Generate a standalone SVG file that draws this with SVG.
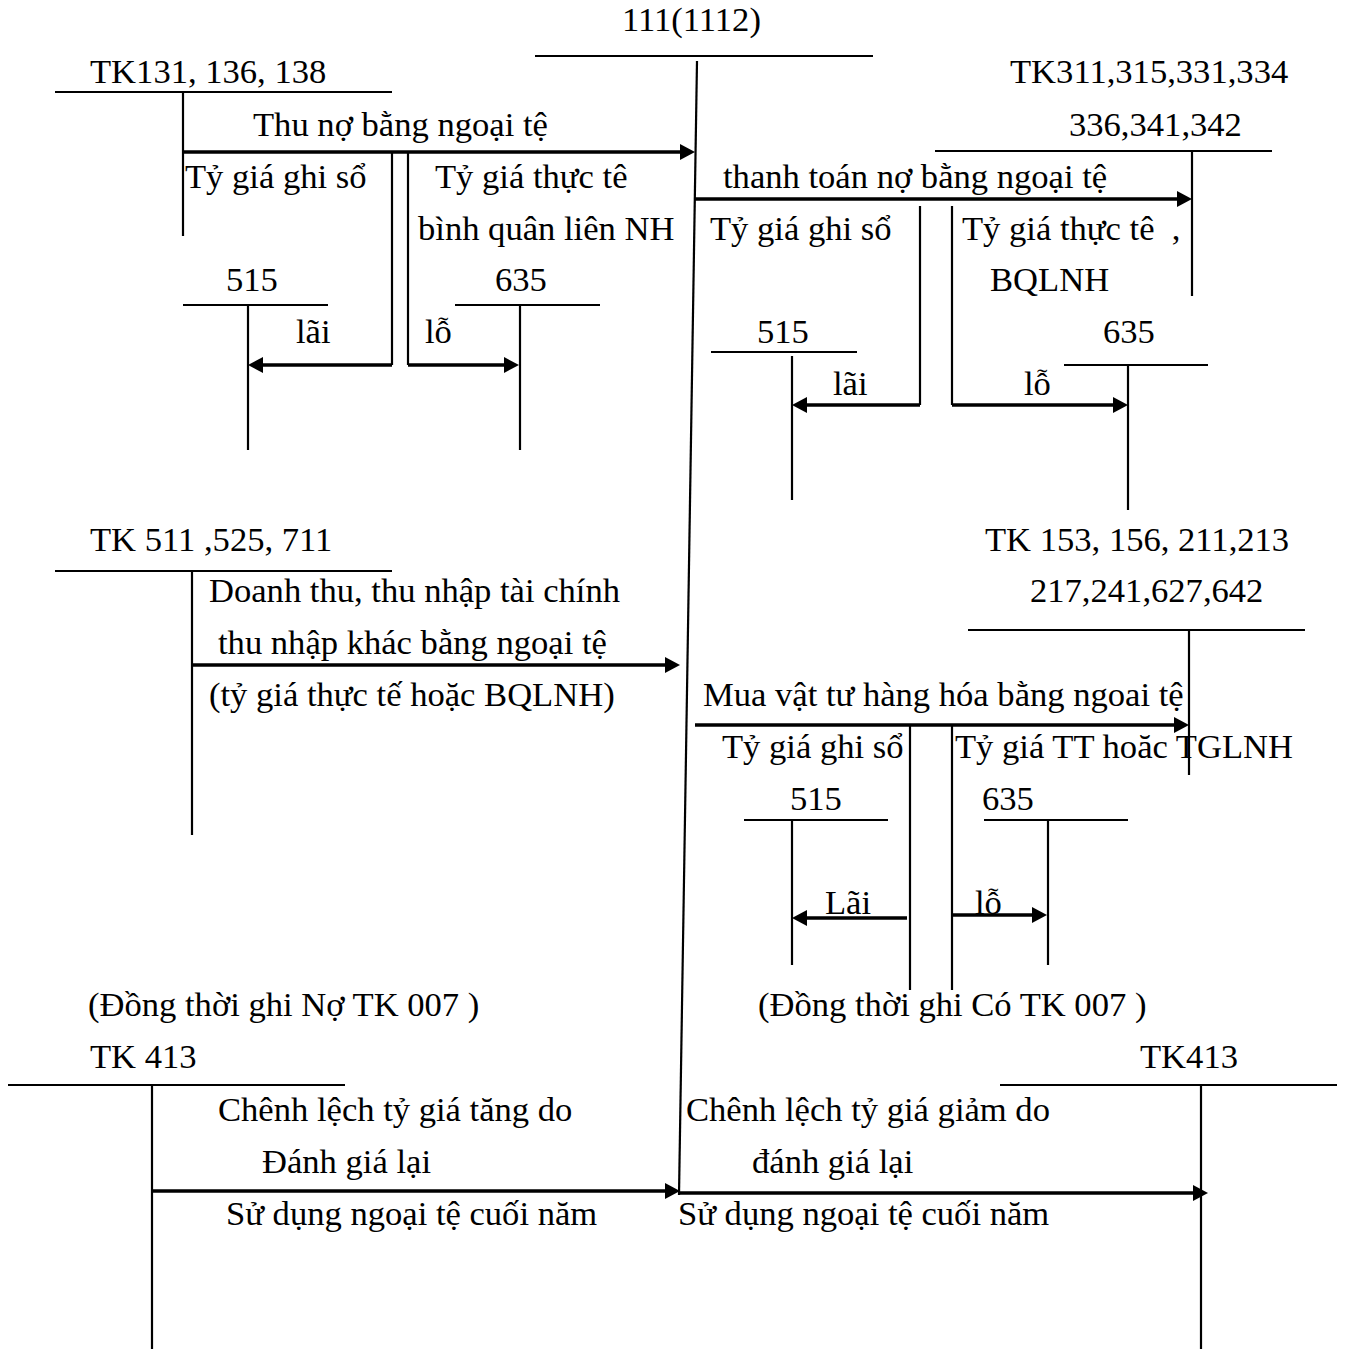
<svg xmlns="http://www.w3.org/2000/svg" xmlns:xlink="http://www.w3.org/1999/xlink" width="1349" height="1349" viewBox="0 0 1349 1349">
<style>
text{font-family:"Liberation Serif","Times New Roman",serif;font-size:34.6px;fill:#000}
.t{stroke:#000;stroke-width:2.2;fill:none}
.a{stroke:#000;stroke-width:3.5;fill:none}
.h{fill:#000;stroke:none}
</style>
<defs>
<path id="ah" class="h" d="M0,0 L-15,-8 L-15,8 z"/>
</defs>
<rect width="1349" height="1349" fill="#fff"/>

<g id="tk111">
<text x="622" y="31">111(1112)</text>
<line class="t" x1="535" y1="56" x2="873" y2="56"/>
<line class="t" x1="697" y1="61" x2="679" y2="1195"/>
</g>

<g id="tk131">
<text x="90" y="83">TK131, 136, 138</text>
<line class="t" x1="55" y1="92" x2="392" y2="92"/>
<line class="t" x1="183" y1="92" x2="183" y2="236"/>
</g>
<g id="tk515a">
<text x="226" y="291">515</text>
<line class="t" x1="183" y1="305" x2="328" y2="305"/>
<line class="t" x1="248" y1="305" x2="248" y2="450"/>
</g>
<g id="tk635a">
<text x="495" y="291">635</text>
<line class="t" x1="455" y1="305" x2="600" y2="305"/>
<line class="t" x1="520" y1="305" x2="520" y2="450"/>
</g>

<g id="tk311">
<text x="1010" y="83">TK311,315,331,334</text>
<text x="1069" y="136">336,341,342</text>
<line class="t" x1="935" y1="151" x2="1272" y2="151"/>
<line class="t" x1="1192" y1="151" x2="1192" y2="296"/>
</g>
<g id="tk515b">
<text x="757" y="343">515</text>
<line class="t" x1="711" y1="352" x2="857" y2="352"/>
<line class="t" x1="792" y1="356" x2="792" y2="500"/>
</g>
<g id="tk635b">
<text x="1103" y="343">635</text>
<line class="t" x1="1064" y1="365" x2="1208" y2="365"/>
<line class="t" x1="1128" y1="366" x2="1128" y2="510"/>
</g>

<g id="tk511">
<text x="90" y="551">TK 511 ,525, 711</text>
<line class="t" x1="55" y1="571" x2="392" y2="571"/>
<line class="t" x1="192" y1="571" x2="192" y2="835"/>
</g>

<g id="tk153">
<text x="985" y="551">TK 153, 156, 211,213</text>
<text x="1030" y="602">217,241,627,642</text>
<line class="t" x1="968" y1="630" x2="1305" y2="630"/>
<line class="t" x1="1189" y1="630" x2="1189" y2="775"/>
</g>
<g id="tk515c">
<text x="790" y="810">515</text>
<line class="t" x1="744" y1="820" x2="888" y2="820"/>
<line class="t" x1="792" y1="820" x2="792" y2="965"/>
</g>
<g id="tk635c">
<text x="982" y="810">635</text>
<line class="t" x1="984" y1="820" x2="1128" y2="820"/>
<line class="t" x1="1048" y1="820" x2="1048" y2="965"/>
</g>

<g id="tk413a">
<text x="90" y="1068">TK 413</text>
<line class="t" x1="8" y1="1085" x2="345" y2="1085"/>
<line class="t" x1="152" y1="1085" x2="152" y2="1349"/>
</g>
<g id="tk413b">
<text x="1140" y="1068">TK413</text>
<line class="t" x1="1000" y1="1085" x2="1337" y2="1085"/>
<line class="t" x1="1201" y1="1085" x2="1201" y2="1349"/>
</g>

<g id="connectors">
<line class="a" x1="183" y1="152" x2="684" y2="152"/>
<use xlink:href="#ah" href="#ah" transform="translate(695,152)"/>
<polyline class="t" points="392,152 392,365"/>
<line class="a" x1="392" y1="365" x2="258" y2="365"/>
<use xlink:href="#ah" href="#ah" transform="translate(248,365) scale(-1,1)"/>
<polyline class="t" points="408,152 408,365"/>
<line class="a" x1="408" y1="365" x2="508" y2="365"/>
<use xlink:href="#ah" href="#ah" transform="translate(519,365)"/>

<line class="a" x1="695" y1="199" x2="1181" y2="199"/>
<use xlink:href="#ah" href="#ah" transform="translate(1192,199)"/>
<polyline class="t" points="920,206 920,405"/>
<line class="a" x1="920" y1="405" x2="802" y2="405"/>
<use xlink:href="#ah" href="#ah" transform="translate(792,405) scale(-1,1)"/>
<polyline class="t" points="952,206 952,405"/>
<line class="a" x1="952" y1="405" x2="1117" y2="405"/>
<use xlink:href="#ah" href="#ah" transform="translate(1128,405)"/>

<line class="a" x1="192" y1="665" x2="669" y2="665"/>
<use xlink:href="#ah" href="#ah" transform="translate(680,665)"/>

<line class="a" x1="695" y1="725" x2="1178" y2="725"/>
<use xlink:href="#ah" href="#ah" transform="translate(1189,725)"/>
<polyline class="t" points="910,725 910,990"/>
<line class="a" x1="907" y1="918" x2="802" y2="918"/>
<use xlink:href="#ah" href="#ah" transform="translate(792,918) scale(-1,1)"/>
<polyline class="t" points="952,725 952,990"/>
<line class="a" x1="952" y1="915" x2="1036" y2="915"/>
<use xlink:href="#ah" href="#ah" transform="translate(1047,915)"/>

<line class="a" x1="152" y1="1191" x2="669" y2="1191"/>
<use xlink:href="#ah" href="#ah" transform="translate(680,1191)"/>
<line class="a" x1="680" y1="1193" x2="1197" y2="1193"/>
<use xlink:href="#ah" href="#ah" transform="translate(1208,1193)"/>
</g>

<g id="labels">
<text x="253" y="136">Thu nợ bằng ngoại tệ</text>
<text x="185" y="188">Tỷ giá ghi sổ</text>
<text x="435" y="188">Tỷ giá thực tê</text>
<text x="418" y="240">bình quân liên NH</text>
<text x="296" y="343">lãi</text>
<text x="425" y="343">lỗ</text>

<text x="723" y="188">thanh toán nợ bằng ngoại tệ</text>
<text x="710" y="240">Tỷ giá ghi sổ</text>
<text x="962" y="240" xml:space="preserve">Tỷ giá thực tê  ,</text>
<text x="990" y="291">BQLNH</text>
<text x="833" y="395">lãi</text>
<text x="1024" y="395">lỗ</text>

<text x="209" y="602">Doanh thu, thu nhập tài chính</text>
<text x="218" y="654">thu nhập khác bằng ngoại tệ</text>
<text x="209" y="706">(tỷ giá thực tế hoặc BQLNH)</text>

<text x="703" y="706">Mua vật tư hàng hóa bằng ngoai tệ</text>
<text x="722" y="758">Tỷ giá ghi sổ</text>
<text x="955" y="758">Tỷ giá TT hoăc TGLNH</text>
<text x="825" y="914">Lãi</text>
<text x="975" y="914">lỗ</text>

<text x="88" y="1016">(Đồng thời ghi Nợ TK 007 )</text>
<text x="758" y="1016">(Đồng thời ghi Có TK 007 )</text>

<text x="218" y="1121">Chênh lệch tỷ giá tăng do</text>
<text x="262" y="1173">Đánh giá lại</text>
<text x="226" y="1225">Sử dụng ngoại tệ cuối năm</text>
<text x="686" y="1121">Chênh lệch tỷ giá giảm do</text>
<text x="752" y="1173">đánh giá lại</text>
<text x="678" y="1225">Sử dụng ngoại tệ cuối năm</text>
</g>
</svg>
